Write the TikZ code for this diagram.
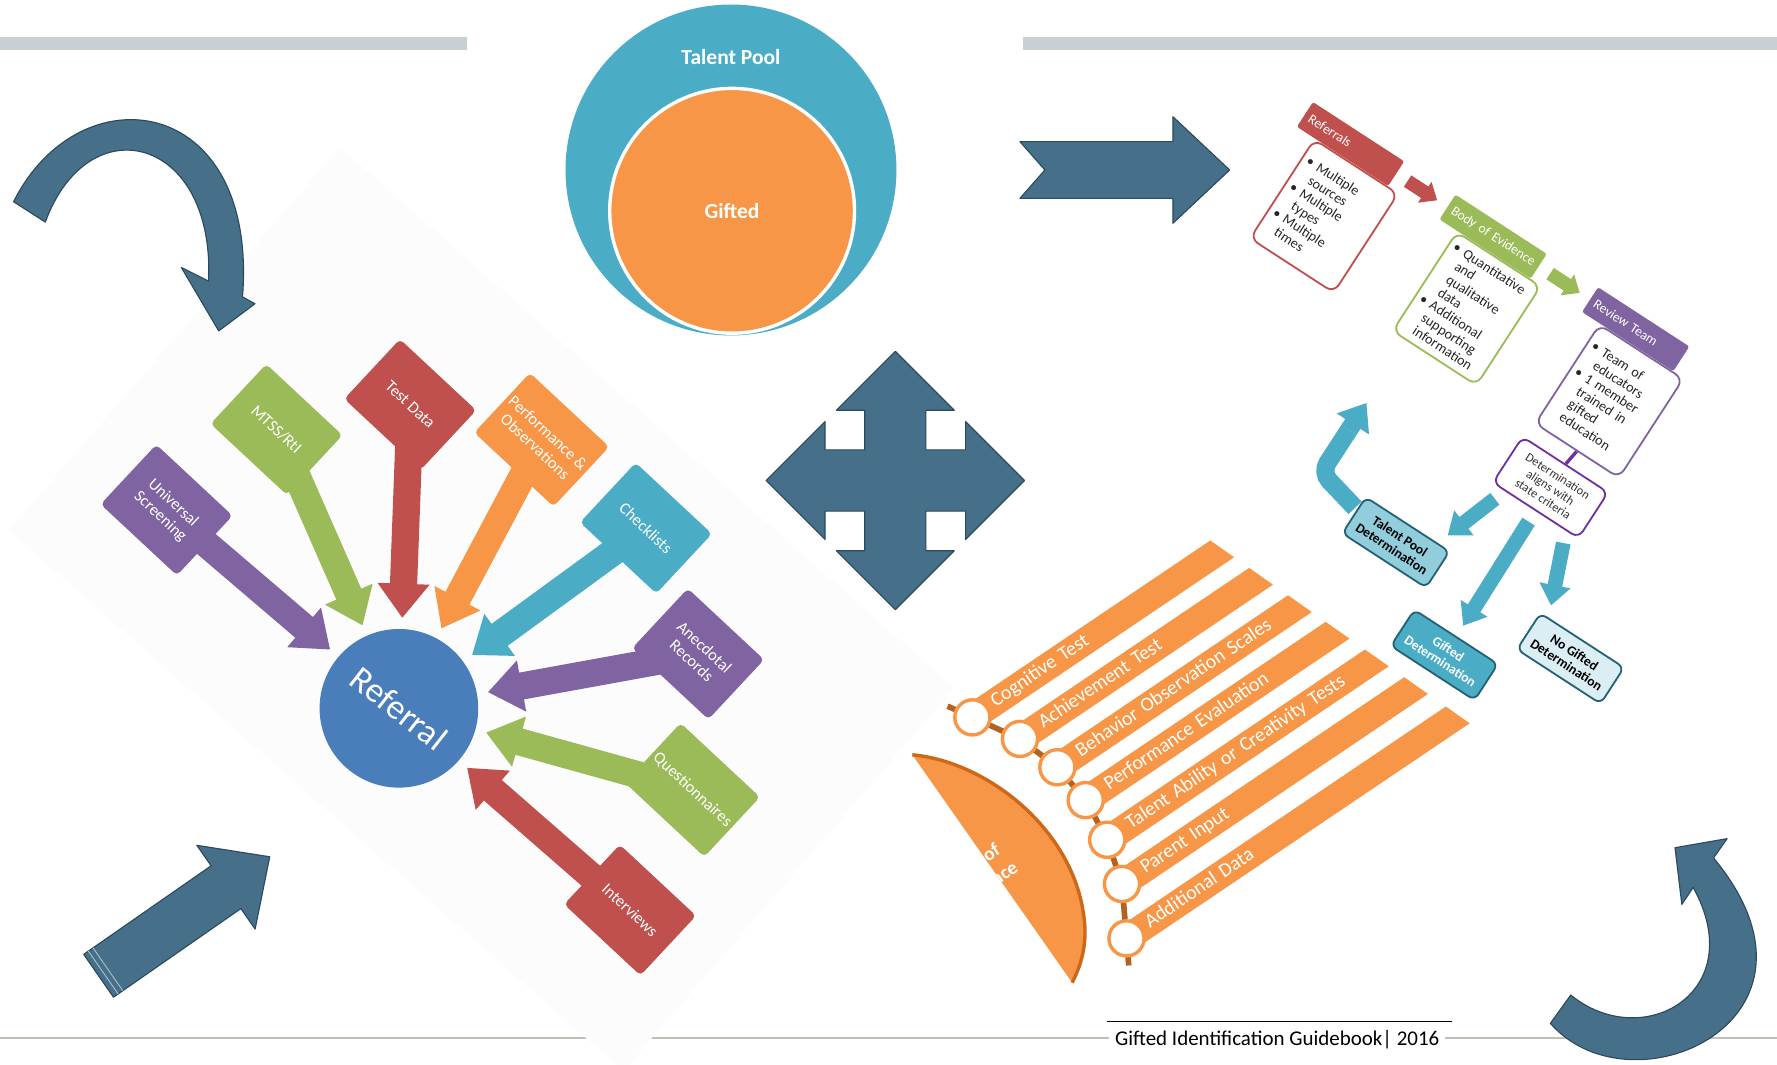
\documentclass[tikz,border=0pt]{standalone}
\usepackage{fontspec}
\setmainfont{Carlito}
\usetikzlibrary{calc, backgrounds}
\definecolor{myred}{RGB}{192,80,77}
\definecolor{mygreen}{RGB}{155,187,89}
\definecolor{mypurple}{RGB}{128,100,162}
\definecolor{myorange}{RGB}{247,150,70}
\definecolor{myteal}{RGB}{75,172,198}
\definecolor{myblue}{RGB}{74,126,187}
\definecolor{slate}{RGB}{70,112,138}
\definecolor{slatedark}{RGB}{45,74,92}
\definecolor{bargray}{RGB}{201,208,211}
\definecolor{linegray}{RGB}{190,192,182}
\definecolor{panel}{RGB}{252,252,252}
\definecolor{spine}{RGB}{178,98,34}
\definecolor{arcorange}{RGB}{204,104,24}
\definecolor{detpurple}{RGB}{112,48,160}
\definecolor{tpblue}{RGB}{146,205,220}
\definecolor{nogblue}{RGB}{218,238,243}
\definecolor{tealdark}{RGB}{35,98,118}

% block arrow: style, tail, tip, half shaft, half head, head length
\newcommand{\bagap}{0pt}
\newcommand{\blockarrow}[6]{%
  \coordinate (ba-a) at (#2);
  \coordinate (ba-b) at (#3);
  \coordinate (ba-s) at ($(ba-a)!\bagap!(ba-b)$);
  \coordinate (ba-t) at ($(ba-b)!\bagap!(ba-a)$);
  \coordinate (ba-h) at ($(ba-t)!#6!(ba-s)$);
  \fill[#1] ($(ba-s)!#4!90:(ba-t)$) -- ($(ba-h)!#4!-90:(ba-s)$)
    -- ($(ba-h)!#5!-90:(ba-s)$) -- (ba-t) -- ($(ba-h)!#5!90:(ba-s)$)
    -- ($(ba-h)!#4!90:(ba-s)$) -- ($(ba-s)!#4!-90:(ba-t)$) -- cycle;}
\newcommand{\bitem}{\textbullet\ }
\newcommand{\bcont}{\hphantom{\textbullet\ }}

\tikzset{
  refbox/.style={rounded corners=4pt, minimum width=92pt, minimum height=72pt, rotate=-43, text=white, align=center, font=\fontsize{14.5}{16.5}\selectfont},
  hdr/.style={rounded corners=2pt, text width=86pt, inner xsep=5pt, inner ysep=0pt, minimum height=26pt, align=left, text=white, font=\fontsize{12}{13}\selectfont},
  body/.style={fill=white, rounded corners=8pt, line width=1.6pt, text width=78pt, inner xsep=5pt, minimum height=104pt, align=left, text=black!85, font=\fontsize{12.5}{13.6}\selectfont},
  det/.style={fill=white, draw=detpurple, rounded corners=7pt, line width=1.6pt, minimum width=90pt, minimum height=48pt, inner sep=1pt, align=center, text=black!80, font=\fontsize{11}{12}\selectfont},
  detbox/.style={draw=tealdark, rounded corners=6pt, line width=1.6pt, minimum width=88pt, minimum height=38pt, inner sep=1pt, align=center, font=\bfseries\fontsize{12}{13}\selectfont},
  listbar/.style={fill=myorange, rotate=34, anchor=west, text width=420pt, inner xsep=22pt, inner ysep=0pt, minimum height=24pt, text height=12pt, text depth=3.5pt, align=left, text=white, font=\fontsize{17.5}{18}\selectfont},
  dot/.style={circle, fill=white, draw=myorange, line width=3pt, minimum size=31pt, inner sep=0pt},
  poolfont/.style={text=white, font=\bfseries\fontsize{19}{21}\selectfont},
  arrowshape/.style={fill=slate, draw=slatedark, line width=1pt, line join=round},
}

\begin{document}
\begin{tikzpicture}[x=1pt, y=-1pt]
\useasboundingbox (0,0) rectangle (1568,939);

\begin{scope}[on background layer]
  % page, rules and the pale panel behind the referral web
  \fill[white] (0,0) rectangle (1568,939);
  \fill[bargray] (0,33) rectangle (412,44);
  \fill[bargray] (903,33) rectangle (1568,44);
  \draw[linegray, line width=2pt] (0,916) -- (1568,916);
  \fill[panel] (8,468) -- (300,130) -- (842,607) -- (550,945) -- cycle;
\end{scope}

% Talent pool
\node[circle, fill=myteal, minimum size=292pt, inner sep=0pt] (pool) at (645,150) {};
\node[poolfont] (poolname) at (645,50) {Talent Pool};
\node[circle, fill=myorange, draw=white, line width=3pt, minimum size=216pt, inner sep=0pt, poolfont] (gifted) at (646,186) {Gifted};

% Referral web
\node[circle, fill=myblue, minimum size=140pt, inner sep=0pt, rotate=-38, text=white, font=\fontsize{31}{32}\selectfont] (ref) at (352,625) {Referral};
\node[refbox, fill=mypurple] (us) at (147,450) {Universal\\Screening};
\node[refbox, fill=mygreen] (mtss) at (244,379) {MTSS/RtI};
\node[refbox, fill=myred] (test) at (362,357) {Test Data};
\node[refbox, fill=myorange] (perf) at (478,388) {Performance \&\\Observations};
\node[refbox, fill=myteal] (check) at (570,466) {Checklists};
\node[refbox, fill=mypurple] (anec) at (616,577) {Anecdotal\\Records};
\node[refbox, fill=mygreen] (quest) at (611,697) {Questionnaires};
\node[refbox, fill=myred] (intv) at (556,803) {Interviews};
\begin{scope}[on background layer]
  \foreach \nm/\col in {us/mypurple, mtss/mygreen, test/myred, perf/myorange,
      check/myteal, anec/mypurple, quest/mygreen, intv/myred} {
    \blockarrow{fill=\col}{\nm}{$(ref)!80pt!(\nm)$}{12pt}{23pt}{30pt}
  }
\end{scope}

% Process chart
\begin{scope}[shift={(1300,300)}, rotate=-33, transform shape]
  \node[body, draw=myred] (b1) at (-170,-20) {\bitem Multiple\\\bcont sources\\\bitem Multiple\\\bcont types\\\bitem Multiple\\\bcont times};
  \node[hdr, fill=myred] (h1) at (-185,-86) {Referrals};
  \node[body, draw=mygreen] (b2) at (-20,-20) {\bitem Quantitative\\\bcont and\\\bcont qualitative\\\bcont data\\\bitem Additional\\\bcont supporting\\\bcont information};
  \node[hdr, fill=mygreen] (h2) at (-35,-86) {Body of Evidence};
  \node[body, draw=mypurple] (b3) at (130,-20) {\bitem Team of\\\bcont educators\\\bitem 1 member\\\bcont trained in\\\bcont gifted\\\bcont education};
  \node[hdr, fill=mypurple] (h3) at (115,-86) {Review Team};
  \node[det] (det) at (128,72) {Determination\\aligns with\\state criteria};
  \node[detbox, fill=tpblue] (tp) at (40,187) {Talent Pool\\Determination};
  \node[detbox, fill=myteal, text=white] (gift) at (130,247) {Gifted\\Determination};
  \node[detbox, fill=nogblue] (nog) at (225,189) {No Gifted\\Determination};
  \draw[detpurple, line width=3pt] (b3.south) -- (det.north);
  \blockarrow{fill=myred}{$(h1.east)!0.22!(h2.west)$}{$(h1.east)!0.8!(h2.west)$}{6pt}{11pt}{13pt}
  \blockarrow{fill=mygreen}{$(h2.east)!0.22!(h3.west)$}{$(h2.east)!0.8!(h3.west)$}{6pt}{11pt}{13pt}
  % back to the pool
  \path (tp.west) ++(-2,-6) coordinate (ret-a) ++(-42,-10) coordinate (ret-b)
    ++(0,-45) coordinate (ret-c) ++(0,-28) coordinate (ret-d);
  \draw[myteal, line width=16pt, rounded corners=10pt] (ret-a) -- (ret-b) -- (ret-c);
  \blockarrow{fill=myteal}{ret-c}{ret-d}{8pt}{17pt}{22pt}
  \renewcommand{\bagap}{11pt}
  \blockarrow{fill=myteal}{$(det.south west)!0.15!(det.south east)$}{$(tp.north east)!0.15!(tp.north west)$}{6.5pt}{14pt}{18pt}
  \blockarrow{fill=myteal}{det.south}{gift.north}{6.5pt}{14pt}{18pt}
  \blockarrow{fill=myteal}{$(det.south east)!0.15!(det.south west)$}{$(nog.north west)!0.1!(nog.north east)$}{6.5pt}{14pt}{18pt}
\end{scope}

% Evidence list
\begin{scope}
  \clip (780,274) -- (1400,711) -- (1400,939) -- (780,939) -- cycle;
  \foreach \p/\lbl [count=\i] in {{858,633}/Cognitive Test, {900,652}/Achievement Test,
      {933,677}/Behavior Observation Scales, {958,706}/Performance Evaluation,
      {977,741}/Talent Ability or Creativity Tests, {990,780}/Parent Input,
      {994,828}/Additional Data} {
    \coordinate (c\i) at (\p);
    \node[listbar] (bar\i) at (c\i) {\lbl};
  }
\end{scope}
\draw[spine, line width=5pt] ($(c1)!-24pt!(c2)$) \foreach \i in {1,...,7} {-- (c\i)} -- ($(c7)!-24pt!(c6)$);
\foreach \i in {1,...,7}
  \node[dot] (dot\i) at (c\i) {};
\begin{scope}
  \clip (805,666) .. controls (870,672) and (945,730) .. (956,806) .. controls (960,830) and (955,850) .. (946,867) -- cycle;
  \fill[myorange] (780,640) rectangle (980,900);
  \node[rotate=34, align=center, text=white, font=\bfseries\fontsize{17}{22}\selectfont] (boe) at (864,772) {Body of\\Evidence};
\end{scope}
\draw[arcorange, line width=3pt] (805,666) .. controls (870,672) and (945,730) .. (956,806) .. controls (960,830) and (955,850) .. (946,867);

% Cycle arrows
\fill[arrowshape] (12,178) .. controls (70,62) and (228,82) .. (214,262) -- (225,268) -- (193,292) -- (160,236) -- (184,248) .. controls (190,120) and (78,92) .. (40,196) -- cycle;
\fill[arrowshape] (900,125) -- (1035,125) -- (1035,103) -- (1085,150) -- (1035,197) -- (1035,175) -- (900,175) -- (922,150) -- cycle;
\fill[arrowshape, shift={(790,424)}] (0,-114) -- (52,-62) -- (27,-62) -- (27,-27) -- (62,-27) -- (62,-52) -- (114,0)
  -- (62,52) -- (62,27) -- (27,27) -- (27,62) -- (52,62) -- (0,114) -- (-52,62) -- (-27,62) -- (-27,27)
  -- (-62,27) -- (-62,52) -- (-114,0) -- (-62,-52) -- (-62,-27) -- (-27,-27) -- (-27,-62) -- (-52,-62) -- cycle;
\fill[arrowshape] (1368,903) .. controls (1440,985) and (1630,900) .. (1512,757) -- (1524,740) -- (1478,748) -- (1484,798) -- (1494,783) .. controls (1545,875) and (1450,930) .. (1386,878) -- cycle;
\blockarrow{arrowshape}{87,861}{238,756}{23pt}{45pt}{47pt}
\foreach \d in {5pt,10pt} {
  \coordinate (tail-m) at ($(ba-s)!\d!(ba-t)$);
  \draw[white!55!slate, line width=0.8pt] ($(tail-m)!23pt!90:(ba-t)$) -- ($(tail-m)!23pt!-90:(ba-t)$);
}

% Footer
\node[fill=white, inner xsep=5pt, font=\fontsize{18.5}{21}\selectfont] (foot) at (1127,917) {Gifted Identification Guidebook| 2016};
\draw[line width=1.3pt] ($(foot.north west)+(-2,-4)$) -- ($(foot.north east)+(6,-4)$);
\end{tikzpicture}
\end{document}
